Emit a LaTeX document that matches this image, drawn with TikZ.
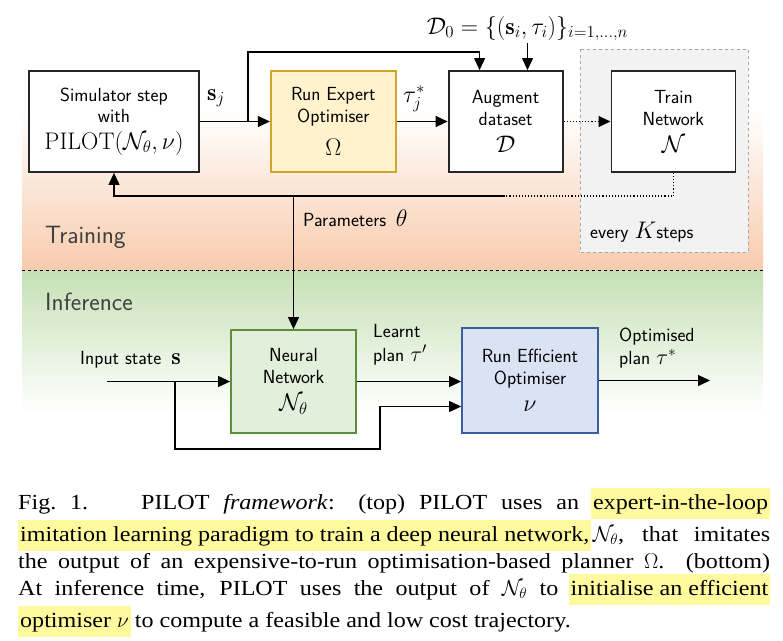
\RequirePackage{fix-cm}
\documentclass[tikz,border=0pt]{standalone}
\usepackage{amsmath,amssymb}
\usepackage{fontspec}
\usepackage{xcolor}
\usepackage{tikz}
\usetikzlibrary{arrows.meta,positioning}

\newfontfamily\capfont[FakeStretch=1.12]{Liberation Serif}

\definecolor{expfill}{HTML}{FFF2CC}
\definecolor{expdraw}{HTML}{CFA52B}
\definecolor{nnfill}{HTML}{E2EFDA}
\definecolor{nndraw}{HTML}{5B8F3B}
\definecolor{efffill}{HTML}{DAE3F3}
\definecolor{effdraw}{HTML}{3B5EA0}
\definecolor{peach}{HTML}{F8CBAD}
\definecolor{infgreen}{HTML}{C5E0B4}
\definecolor{kfill}{HTML}{F2F2F2}
\definecolor{bandtext}{HTML}{404040}
\definecolor{hlyellow}{HTML}{FFFA9E}

\newcommand{\mathbig}{\fontsize{24}{28}\selectfont}
\newcommand{\capsetup}{\capfont\fontsize{21.5}{27}\selectfont\hyphenpenalty=10000 \emergencystretch=20pt\relax}
\newcommand{\marked}[1]{\hspace{-2pt}{\setlength{\fboxsep}{2pt}\colorbox{hlyellow}{\rule[-8pt]{0pt}{27pt}#1}}\hspace{-2pt}}

\begin{document}
\begin{tikzpicture}[
        x=1pt, y=-1pt,
        font=\sffamily\fontsize{19}{21.5}\selectfont,
        box/.style={draw=black!85, line width=1.8pt, fill=white, align=center, minimum height=101pt, inner sep=0pt},
        arr/.style={-{Triangle[length=12pt,width=11pt]}, line width=1.1pt},
        lbl/.style={inner sep=0pt, align=left},
        band/.style={font=\sffamily\fontsize{25}{30}\selectfont, text=bandtext, anchor=west, inner sep=0pt},
        capnode/.style={text width=752pt, align=justify, inner sep=0pt, font=\capsetup}
    ]
        \useasboundingbox (0,0) rectangle (783,640);
        % training / inference bands
        \shade[top color=white, bottom color=peach] (22,110) rectangle (763,270);
        \shade[top color=infgreen, bottom color=white] (22,270) rectangle (763,413);
        \draw[dashed, line width=0.9pt] (22,270) -- (763,270);
        \node[band] (trainlab) at (45,237) {Training};
        \node[band] (inflab) at (45,302) {Inference};
        \draw[dashed, draw=black!35, fill=kfill, line width=0.8pt] (580,49) rectangle (748,252);
        \node[lbl, anchor=west] (klab) at (590,232) {every {\mathbig$K$}steps};

        % training loop
        \node[box, minimum width=170pt] (sim) at (114,121.5) {Simulator step\\with\\[5pt]{\mathbig$\mathrm{PILOT}(\mathcal{N}_\theta,\nu)$}};
        \node[box, minimum width=125pt, fill=expfill, draw=expdraw, right=70pt of sim] (expert) {Run Expert\\Optimiser\\[12pt]{\mathbig$\Omega$}};
        \node[box, minimum width=114pt, right=51pt of expert] (aug) {Augment\\dataset\\[6pt]{\mathbig$\mathcal{D}$}};
        \node[box, minimum width=124pt, right=47pt of aug] (train) {Train\\Network\\[6pt]{\mathbig$\mathcal{N}$}};
        \node[anchor=base, inner sep=2pt] (d0) at (527.5,34) {\mathbig$\mathcal{D}_0=\{(\mathbf{s}_i,\tau_i)\}_{i=1,\dots,n}$};
        \node[lbl, anchor=west] (sjlab) at (207,98) {\mathbig$\mathbf{s}_j$};
        \node[lbl, anchor=west] (taulab) at (403,99) {\mathbig$\tau_j^*$};
        \node[lbl, anchor=west] (parlab) at (303,218) {Parameters\enspace{\mathbig$\theta$}};

        \coordinate (split1) at (248,121.5);
        \coordinate (fb) at (505,196);
        \draw[arr] (sim) -- (expert);
        \draw[arr] (split1) -- ++(0,-69.5) -| ([xshift=-26pt]aug.north);
        \draw[arr] (d0.south) -- (d0.south |- aug.north);
        \draw[arr] (expert) -- (aug);
        \draw[arr, dotted] (aug) -- (train);
        \draw[dotted, line width=1.1pt] (train.south) |- (fb);
        \draw[arr] (fb) -| (sim.south);

        % inference
        \node[box, minimum width=125pt, minimum height=103pt, fill=nnfill, draw=nndraw] (nn) at (293.5,381.5) {Neural\\Network\\[6pt]{\mathbig$\mathcal{N}_\theta$}};
        \node[box, minimum width=136pt, minimum height=105pt, fill=efffill, draw=effdraw] (eff) at (530,380.5) {Run Efficient\\Optimiser\\[6pt]{\mathbig$\nu$}};
        \node[lbl, anchor=west] (inlab) at (80,360) {Input state\hspace{10pt}{\mathbig$\mathbf{s}$}};
        \node[lbl, anchor=west] (learnt) at (373,345) {Learnt\\[2pt]plan {\fontsize{22}{24}\selectfont$\tau'$}};
        \node[lbl, anchor=west] (optlab) at (619,348) {Optimised\\[2pt]plan {\fontsize{22}{24}\selectfont$\tau^*$}};

        \coordinate (in) at (107,381.5);
        \coordinate (split2) at (175,381.5);
        \coordinate (out) at (710,380.5);
        \draw[arr] (nn.north |- fb) -- (nn);
        \draw[arr] (in) -- (nn);
        \draw[arr] (split2) |- ++(205,67.5) |- ([yshift=-26pt]eff.west);
        \draw[arr] (nn.east) -- (nn.east -| eff.west);
        \draw[arr] (eff) -- (out);

        % caption
        \node[capnode, anchor=north west] (cap) at (18,488) {Fig.~1.\hspace{1em} PILOT \textit{framework}: (top) PILOT uses an \marked{expert-in-the-loop}\linebreak
        \marked{imitation learning paradigm to train a deep neural network,}\,$\mathcal{N}_\theta$, that imitates\linebreak
        the output of an expensive-to-run optimisation-based planner $\Omega$. (bottom)\linebreak
        At inference time, PILOT uses the output of $\mathcal{N}_\theta$ to \marked{initialise an efficient}\linebreak
        \marked{optimiser $\nu$} to compute a feasible and low cost trajectory.};
    \end{tikzpicture}
\end{document}
